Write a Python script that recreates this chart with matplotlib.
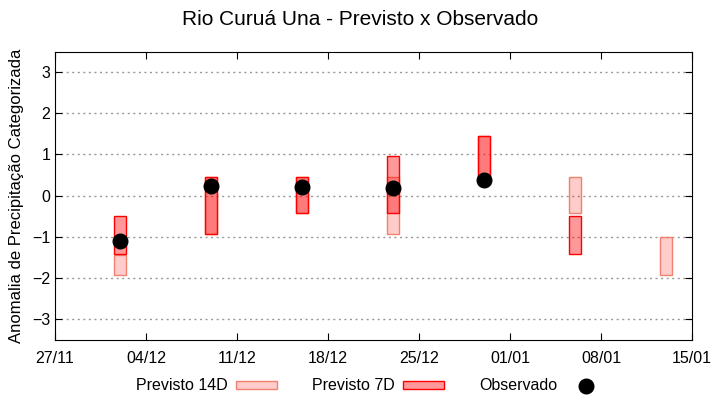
import datetime as dt
import matplotlib
matplotlib.use('Agg')
import matplotlib.pyplot as plt
import matplotlib.dates as mdates
from matplotlib.patches import Patch
from matplotlib.lines import Line2D

plt.rcParams['font.family'] = ['Liberation Sans', 'DejaVu Sans']

# forecast weeks (center dates)
dates_14d = ['2017-12-02', '2017-12-09', '2017-12-16', '2017-12-23', '2017-12-30', '2018-01-06', '2018-01-13']
low_14d = [-1.93, -0.93, -0.43, -0.93, 0.45, -0.43, -1.93]
high_14d = [-1.45, 0.45, 0.45, 0.45, 1.44, 0.45, -1.0]

dates_7d = ['2017-12-02', '2017-12-09', '2017-12-16', '2017-12-23', '2017-12-30', '2018-01-06']
low_7d = [-1.42, -0.93, -0.43, -0.43, 0.45, -1.42]
high_7d = [-0.5, 0.45, 0.45, 0.96, 1.44, -0.5]

dates_obs = ['2017-12-02', '2017-12-09', '2017-12-16', '2017-12-23', '2017-12-30']
obs = [-1.1, 0.23, 0.2, 0.18, 0.37]


def to_num(ds):
    return [mdates.date2num(dt.datetime.strptime(d, '%Y-%m-%d')) for d in ds]


fig = plt.figure(figsize=(7.2, 4.0), dpi=100)
ax = fig.add_axes([0.0764, 0.151, 0.885, 0.72])

w = 0.9
x14 = to_num(dates_14d)
ax.bar(x14, [h - l for l, h in zip(low_14d, high_14d)], bottom=low_14d, width=w,
       color=(1, 0, 0, 0.2), edgecolor='#f08070', linewidth=1.0, zorder=2)
x7 = to_num(dates_7d)
ax.bar(x7, [h - l for l, h in zip(low_7d, high_7d)], bottom=low_7d, width=w,
       color=(1, 0, 0, 0.4), edgecolor='red', linewidth=1.0, zorder=3)
ax.plot(to_num(dates_obs), obs, 'o', color='black', markersize=10.5, zorder=4)

start = mdates.date2num(dt.datetime(2017, 11, 27))
ax.set_xlim(start, start + 49)
ax.set_xticks([start + 7 * i for i in range(8)])
ax.xaxis.set_major_formatter(mdates.DateFormatter('%d/%m'))
ax.set_ylim(-3.5, 3.5)
ax.set_yticks([-3, -2, -1, 0, 1, 2, 3])
ax.yaxis.grid(True, linestyle=(0, (1.5, 2.5)), color='#999999', linewidth=1)
ax.set_axisbelow(True)
ax.tick_params(direction='in', top=True, right=True, length=5, labelsize=11.5)
ax.tick_params(axis='x', pad=8)
ax.set_ylabel('Anomalia de Precipitação Categorizada', fontsize=12, labelpad=6)
fig.suptitle('Rio Curuá Una - Previsto x Observado', fontsize=15, y=0.975)

handles = [Patch(facecolor=(1, 0, 0, 0.2), edgecolor='#f08070'),
           Patch(facecolor=(1, 0, 0, 0.4), edgecolor='red'),
           Line2D([], [], marker='o', color='black', linestyle='none', markersize=10.5)]
fig.legend(handles, ['Previsto 14D', 'Previsto 7D', 'Observado'], loc='center',
           bbox_to_anchor=(0.516, 0.035), ncol=3, frameon=False, markerfirst=False,
           handlelength=2.6, handleheight=0.35, handletextpad=0.5,
           columnspacing=2.2, fontsize=11.5)

fig.savefig('out.png', dpi=100)
